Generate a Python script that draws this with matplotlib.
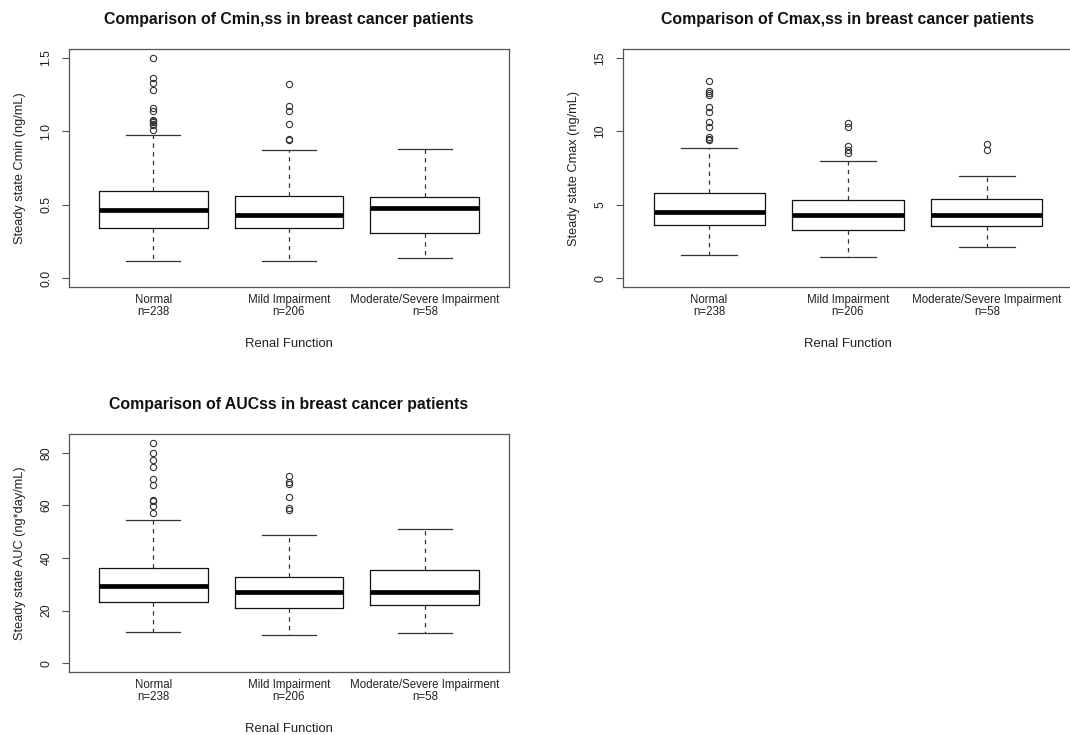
import matplotlib
matplotlib.use("Agg")
import matplotlib.pyplot as plt

plt.rcParams["font.family"] = ["Liberation Sans", "DejaVu Sans"]

groups = ["Normal\nn=238", "Mild Impairment\nn=206", "Moderate/Severe Impairment\nn=58"]

# five-number summaries per group: lower whisker, Q1, median, Q3, upper whisker
cmin_stats = [
    [0.117, 0.343, 0.465, 0.596, 0.972],
    [0.117, 0.343, 0.429, 0.559, 0.873],
    [0.135, 0.305, 0.480, 0.550, 0.880],
]
cmin_out = [
    [1.50, 1.36, 1.33, 1.28, 1.16, 1.14, 1.08, 1.07, 1.06, 1.05, 1.04, 1.01],
    [1.32, 1.17, 1.14, 1.05, 0.95, 0.94],
    [],
]

cmax_stats = [
    [1.61, 3.63, 4.51, 5.80, 8.84],
    [1.43, 3.29, 4.31, 5.30, 7.95],
    [2.15, 3.56, 4.31, 5.37, 6.93],
]
cmax_out = [
    [13.44, 12.74, 12.60, 12.46, 11.67, 11.33, 10.65, 10.31, 9.61, 9.50, 9.43],
    [10.54, 10.27, 9.00, 8.72, 8.50],
    [9.13, 8.72],
]

auc_stats = [
    [11.9, 23.2, 29.3, 36.1, 54.4],
    [10.7, 20.8, 27.0, 32.7, 48.8],
    [11.5, 22.2, 27.0, 35.5, 50.9],
]
auc_out = [
    [83.8, 80.0, 77.3, 74.6, 70.2, 67.8, 62.2, 61.5, 59.9, 57.2],
    [71.0, 69.0, 68.3, 63.1, 58.9, 58.4],
    [],
]

panels = [
    ("Comparison of Cmin,ss in breast cancer patients", "Steady state Cmin (ng/mL)",
     cmin_stats, cmin_out, (0, 1.5), [0, 0.5, 1.0, 1.5], ["0.0", "0.5", "1.0", "1.5"]),
    ("Comparison of Cmax,ss in breast cancer patients", "Steady state Cmax (ng/mL)",
     cmax_stats, cmax_out, (0, 15), [0, 5, 10, 15], ["0", "5", "10", "15"]),
    ("Comparison of AUCss in breast cancer patients", "Steady state AUC (ng*day/mL)",
     auc_stats, auc_out, (0, 83.8), [0, 20, 40, 60, 80], ["0", "20", "40", "60", "80"]),
]

W, H = 1070, 735
fig = plt.figure(figsize=(W / 100, H / 100), dpi=100)
rects = [(69, 49, 440, 238), (623, 49, 450, 238), (69, 434, 440, 238)]

text_col = "#222222"
frame_col = "#555555"

for (title, ylab, stats, outs, ylim, yt, ytl), (x0, y0, w, h) in zip(panels, rects):
    ax = fig.add_axes([x0 / W, 1 - (y0 + h) / H, w / W, h / H])
    bstats = []
    for s, o in zip(stats, outs):
        bstats.append(dict(whislo=s[0], q1=s[1], med=s[2], q3=s[3], whishi=s[4], fliers=o))
    ax.bxp(bstats, positions=[1, 2, 3], widths=0.8,
           boxprops=dict(color="#111111", linewidth=0.9),
           medianprops=dict(color="black", linewidth=3.4, solid_capstyle="butt"),
           whiskerprops=dict(color="#333333", linewidth=0.9, linestyle=(0, (3.5, 3.5))),
           capprops=dict(color="#333333", linewidth=0.9),
           capwidths=0.4,
           flierprops=dict(marker="o", markerfacecolor="none", markeredgecolor="#333333",
                           markersize=4.5, markeredgewidth=0.8, linestyle="none"))
    lo, hi = ylim
    pad = 0.04 * (hi - lo)
    ax.set_ylim(lo - pad, hi + pad)
    ax.set_xlim(0.38, 3.62)
    ax.set_xticks([1, 2, 3])
    ax.set_xticklabels(groups, fontsize=8.3, color=text_col, linespacing=1.05)
    ax.tick_params(axis="x", length=0, pad=5)
    ax.set_yticks(yt)
    ax.set_yticklabels(ytl, rotation=90, va="center", fontsize=8.8, color=text_col)
    ax.tick_params(axis="y", length=5, width=0.8, color=frame_col, pad=7)
    for sp in ax.spines.values():
        sp.set_color(frame_col)
        sp.set_linewidth(0.9)
    ax.set_title(title, fontsize=11.4, fontweight="bold", color="#111111", pad=18)
    ax.set_ylabel(ylab, fontsize=9.2, color=text_col, labelpad=10)
    ax.set_xlabel("Renal Function", fontsize=9.4, color=text_col, labelpad=14)

fig.savefig("out.png", dpi=100)
